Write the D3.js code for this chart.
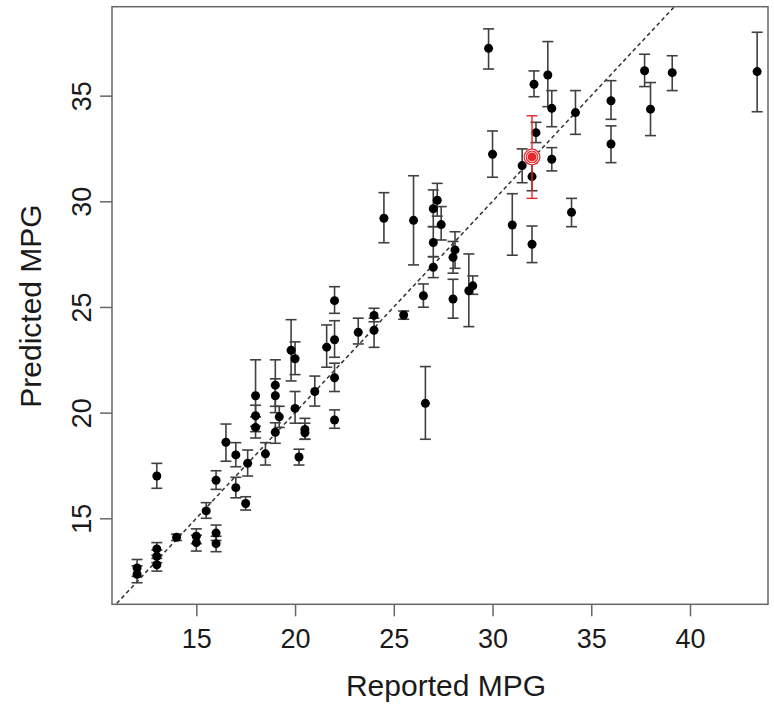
<!DOCTYPE html>
<html>
<head>
<meta charset="utf-8">
<script src="https://cdn.jsdelivr.net/npm/d3@7"></script>
<style>
  html, body { margin: 0; padding: 0; background: #fff; }
  svg text { font-family: "Liberation Sans", Arial, Helvetica, sans-serif; }
</style>
</head>
<body>
<svg id="chart" width="774" height="707"></svg>
<script>
// Reported MPG (x), predicted MPG (y), and lower/upper interval bounds
const reported = [12, 12, 13, 13, 13, 13, 14, 15, 15, 15.5,
  16, 16, 16, 16.5, 17, 17, 17.6, 17.5, 18.5, 18,
  18, 18, 19, 19, 19.2, 19, 20, 19.8, 20, 20.5,
  20.5, 20.2, 21, 21.6, 22, 22, 22, 22, 23.2, 24,
  24, 24.5, 25.5, 26, 26.5, 26.6, 27.2, 27.0, 27.4, 27.0,
  27.0, 28.1, 28.0, 28, 28.8, 29, 29.8, 30, 31, 32,
  34, 31.5, 32, 33, 32.1, 32.8, 33, 32.2, 34.2, 36,
  36, 37.7, 38, 39.1, 43.4];
const predicted = [12.65, 12.35, 13.55, 13.2, 12.8, 17.0, 14.1, 14.15, 13.85, 15.35,
  16.8, 14.3, 13.8, 18.6, 18.0, 16.45, 17.6, 15.7, 18.05, 20.8,
  19.85, 19.3, 21.3, 20.8, 19.8, 19.07, 20.2, 22.95, 22.55, 19.2,
  19.05, 17.9, 21.0, 23.1, 25.3, 23.45, 21.65, 19.65, 23.8, 24.6,
  23.9, 29.2, 24.62, 29.1, 25.53, 20.44, 30.05, 29.65, 28.9, 28.05,
  26.88, 27.7, 27.35, 25.38, 25.77, 26.0, 37.24, 32.23, 28.88, 27.97,
  29.48, 31.69, 31.17, 31.99, 35.54, 35.98, 34.4, 33.25, 34.2, 34.76,
  32.71, 36.18, 34.36, 36.09, 36.14];
const lower = [12.25, 11.95, 13.25, 12.9, 12.5, 16.42, 13.95, 13.8, 13.45, 15.0,
  16.37, 13.95, 13.42, 17.7, 17.44, 15.97, 17.0, 15.39, 17.52, 19.1,
  19.35, 18.8, 20.3, 20.0, 19.3, 18.55, 19.5, 21.5, 21.8, 18.74,
  18.74, 17.52, 20.31, 22.15, 24.7, 22.62, 21.0, 19.26, 23.25, 24.3,
  23.09, 28.04, 24.42, 26.99, 24.99, 18.74, 29.3, 28.8, 28.17, 27.38,
  26.39, 26.83, 26.6, 24.47, 24.07, 25.6, 36.26, 31.14, 27.45, 27.1,
  28.8, 30.88, 30.5, 31.44, 34.95, 34.48, 33.53, 32.78, 33.17, 33.88,
  31.83, 35.43, 33.11, 35.24, 34.24];
const upper = [13.05, 12.75, 13.85, 13.5, 13.1, 17.6, 14.25, 14.5, 14.2, 15.74,
  17.25, 14.68, 14.15, 19.46, 18.58, 16.94, 18.23, 16.02, 18.58, 22.5,
  20.35, 19.8, 22.5, 21.6, 20.3, 19.52, 21.0, 24.4, 23.35, 19.73,
  19.5, 18.27, 21.73, 24.15, 25.96, 24.35, 22.34, 20.13, 24.47, 24.94,
  24.47, 30.41, 24.81, 31.21, 26.09, 22.18, 30.85, 30.54, 29.75, 28.8,
  27.38, 28.56, 28.1, 26.31, 27.51, 26.47, 38.16, 33.33, 30.36, 28.83,
  30.14, 32.48, 31.8, 32.54, 36.17, 37.56, 35.24, 33.74, 35.24, 35.71,
  33.57, 36.96, 35.62, 36.89, 38.0];
// Highlighted car (red)
const highlightReported = [32];
const highlightPredicted = [32.1];
const highlightLower = [30.14];
const highlightUpper = [34.05];

const xTicks = [15, 20, 25, 30, 35, 40];
const yTicks = [15, 20, 25, 30, 35];
const xTitle = "Reported MPG";
const yTitle = "Predicted MPG";

const svg = d3.select("#chart");
const pLeft = 112, pRight = 768, pTop = 6.7, pBottom = 604.3;

const x = d3.scaleLinear().domain([10.73, 43.95]).range([pLeft, pRight]);
const y = d3.scaleLinear().domain([10.93, 39.21]).range([pBottom, pTop]);

const axisColor = "#666";
const textColor = "#1a1a1a";

svg.append("clipPath").attr("id", "plotclip")
  .append("rect").attr("x", pLeft).attr("y", pTop)
  .attr("width", pRight - pLeft).attr("height", pBottom - pTop);

// identity line y = x
const lineVals = [10, 45];
svg.append("line")
  .attr("clip-path", "url(#plotclip)")
  .attr("x1", x(lineVals[0])).attr("y1", y(lineVals[0]))
  .attr("x2", x(lineVals[1])).attr("y2", y(lineVals[1]))
  .attr("stroke", "#333").attr("stroke-width", 1.5)
  .attr("stroke-dasharray", "4,3");

// axes
const xAxis = d3.axisBottom(x).tickValues(xTicks).tickSize(12).tickSizeOuter(0);
const gx = svg.append("g").attr("transform", `translate(0,${pBottom})`).call(xAxis);
gx.select(".domain").remove();
gx.selectAll(".tick line").attr("stroke", axisColor).attr("stroke-width", 1.5);
gx.selectAll(".tick text").attr("font-size", 27).attr("fill", textColor)
  .attr("y", 44).attr("dy", 0);

const yAxis = d3.axisLeft(y).tickValues(yTicks).tickSize(12).tickSizeOuter(0);
const gy = svg.append("g").attr("transform", `translate(${pLeft},0)`).call(yAxis);
gy.select(".domain").remove();
gy.selectAll(".tick line").attr("stroke", axisColor).attr("stroke-width", 1.5);
gy.selectAll(".tick text")
  .attr("font-size", 27).attr("fill", textColor)
  .attr("x", 0).attr("y", 0).attr("dy", 0)
  .attr("text-anchor", "middle")
  .attr("transform", "translate(-21,0) rotate(-90)");

// box
svg.append("rect")
  .attr("x", pLeft).attr("y", pTop)
  .attr("width", pRight - pLeft).attr("height", pBottom - pTop)
  .attr("fill", "none").attr("stroke", axisColor).attr("stroke-width", 1.5);

// titles
svg.append("text").attr("x", 446).attr("y", 696)
  .attr("text-anchor", "middle").attr("font-size", 30).attr("fill", textColor)
  .text(xTitle);
svg.append("text")
  .attr("transform", `translate(41,306) rotate(-90)`)
  .attr("text-anchor", "middle").attr("font-size", 30).attr("fill", textColor)
  .text(yTitle);

// error bars
const cap = 5.5;
const data = reported.map((r, i) => ({ r, p: predicted[i], lo: lower[i], hi: upper[i] }));
const eb = svg.append("g").attr("stroke", "#404040").attr("stroke-width", 1.6).attr("fill", "none");
data.forEach(d => {
  const cx = x(d.r);
  eb.append("line").attr("x1", cx).attr("x2", cx).attr("y1", y(d.lo)).attr("y2", y(d.hi));
  eb.append("line").attr("x1", cx - cap).attr("x2", cx + cap).attr("y1", y(d.lo)).attr("y2", y(d.lo));
  eb.append("line").attr("x1", cx - cap).attr("x2", cx + cap).attr("y1", y(d.hi)).attr("y2", y(d.hi));
});

svg.append("g").selectAll("circle").data(data).join("circle")
  .attr("cx", d => x(d.r)).attr("cy", d => y(d.p)).attr("r", 4.5)
  .attr("fill", "#000");

// highlighted point
const hl = highlightReported.map((r, i) => ({ r, p: highlightPredicted[i], lo: highlightLower[i], hi: highlightUpper[i] }));
const hg = svg.append("g");
hl.forEach(d => {
  const cx = x(d.r);
  hg.append("line").attr("x1", cx).attr("x2", cx).attr("y1", y(d.lo)).attr("y2", y(d.hi))
    .attr("stroke", "#e8262a").attr("stroke-width", 1.4);
  [d.lo, d.hi].forEach(v => hg.append("line").attr("x1", cx - cap).attr("x2", cx + cap)
    .attr("y1", y(v)).attr("y2", y(v)).attr("stroke", "#e8262a").attr("stroke-width", 1.4));
  hg.append("circle").attr("cx", cx).attr("cy", y(d.p)).attr("r", 8.5).attr("fill", "#e8262a");
  hg.append("circle").attr("cx", cx).attr("cy", y(d.p)).attr("r", 6.8).attr("fill", "none")
    .attr("stroke", "#fff").attr("stroke-width", 1);
  hg.append("circle").attr("cx", cx).attr("cy", y(d.p)).attr("r", 4.8).attr("fill", "none")
    .attr("stroke", "#fff").attr("stroke-width", 0.8);
});
</script>
</body>
</html>
